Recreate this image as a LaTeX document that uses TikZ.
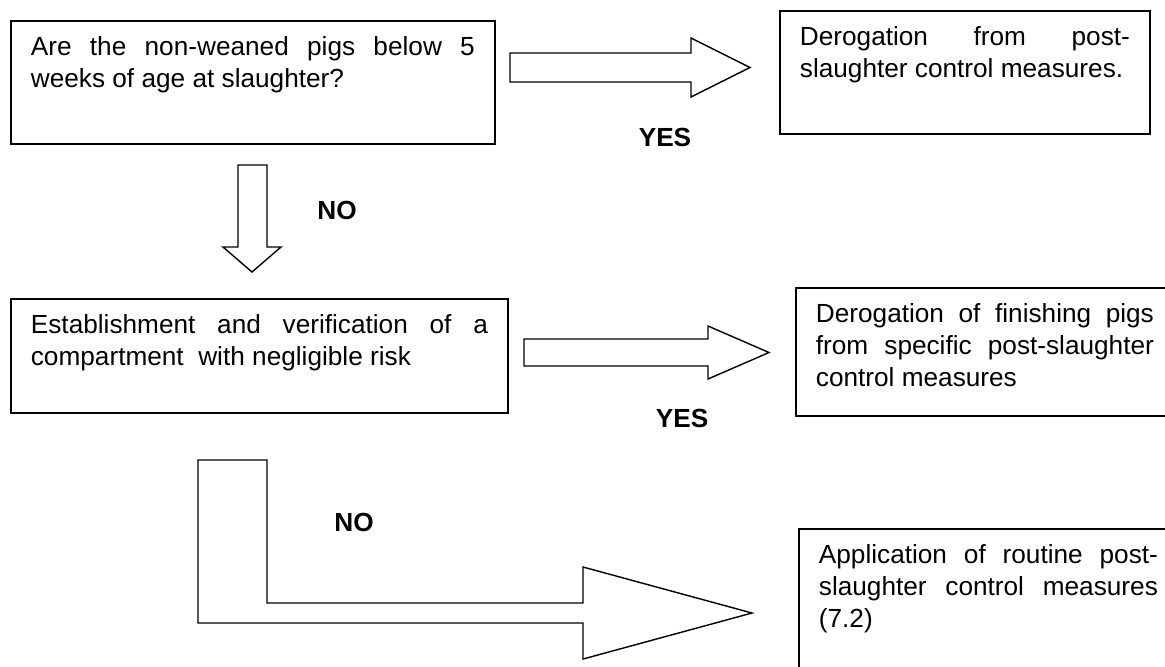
\documentclass[tikz,border=0pt]{standalone}
\usepackage{fontspec}
\setmainfont{Liberation Sans}

\begin{document}
\begin{tikzpicture}[x=0.5pt,y=-0.5pt,
    box/.style={draw, line width=0.9pt, anchor=north west, align=justify,
      inner xsep=10pt, inner ysep=8pt, text height=9.5pt,
      font={\fontsize{13.1}{16}\selectfont\hyphenpenalty 10000\relax}},
    blockarrow/.style={draw, line width=0.7pt},
    answer/.style={font=\fontsize{13.1}{16}\selectfont\bfseries}]

  \clip (0,0) rectangle (1165,666);

  \node[box, text width=222pt, text depth=36pt] (age) at (10,20)
    {Are the non-weaned pigs below 5 weeks of age at slaughter?};
  \node[box, text width=165pt, text depth=36pt] (exempt) at (779,10)
    {Derogation from post-slaughter control measures.};
  \node[box, text width=228.5pt, text depth=31.5pt] (compart) at (10,298)
    {Establishment and verification of a compartment\ \ with negligible risk};
  \node[box, text width=169pt, text depth=38.5pt] (finish) at (795,287)
    {Derogation of finishing pigs from specific post-slaughter control measures};
  \node[box, text width=169.5pt, text depth=70pt] (routine) at (798,528)
    {Application of routine post-slaughter control measures (7.2)};

  \draw[blockarrow] (510,53) -- (691,53) -- (691,38) -- (750,67.5)
    -- (691,97) -- (691,82) -- (510,82) -- cycle;
  \draw[blockarrow] (238,165) -- (267,165) -- (267,247) -- (281,247)
    -- (252,272) -- (223,247) -- (238,247) -- cycle;
  \draw[blockarrow] (524,339) -- (708,339) -- (708,326) -- (769,352.5)
    -- (708,379) -- (708,366) -- (524,366) -- cycle;
  \draw[blockarrow] (198,460) -- (267,460) -- (267,603) -- (583,603)
    -- (583,567) -- (752,613) -- (583,659) -- (583,623) -- (198,623) -- cycle;

  \node[answer] (yes1) at (665,137) {YES};
  \node[answer] (no1) at (337,210) {NO};
  \node[answer] (yes2) at (682,418) {YES};
  \node[answer] (no2) at (354,522) {NO};

\end{tikzpicture}
\end{document}
